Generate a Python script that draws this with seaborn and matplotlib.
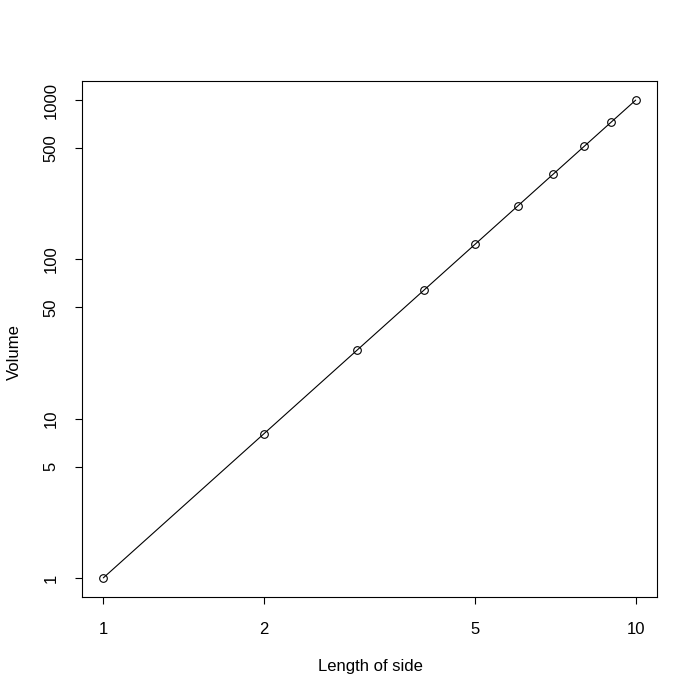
import numpy as np
import pandas as pd
import matplotlib
matplotlib.use("Agg")
import matplotlib.pyplot as plt
import seaborn as sns

side = [1, 2, 3, 4, 5, 6, 7, 8, 9, 10]
volume = [1, 8, 27, 64, 125, 216, 343, 512, 729, 1000]
x_ticks = [1, 2, 5, 10]
y_ticks = [1, 5, 10, 50, 100, 500, 1000]

df = pd.DataFrame({"side": side, "volume": volume})

sns.set_style("ticks", {"text.color": "black", "axes.labelcolor": "black",
                        "xtick.color": "black", "ytick.color": "black"})
plt.rcParams["font.family"] = ["Liberation Sans", "DejaVu Sans"]

fig = plt.figure(figsize=(6.98, 6.98), dpi=100)
ax = fig.add_axes([82 / 698, 101 / 698, 575 / 698, 516 / 698])

sns.lineplot(data=df, x="side", y="volume", ax=ax, color="black", linewidth=0.8,
             marker="o", markersize=5.5, markerfacecolor="none",
             markeredgecolor="black", markeredgewidth=0.8)

ax.set_xscale("log")
ax.set_yscale("log")
ax.set_xlim(10 ** -0.04, 10 ** 1.04)
ax.set_ylim(10 ** -0.12, 10 ** 3.12)
ax.set_xticks(x_ticks)
ax.set_xticklabels([str(t) for t in x_ticks])
ax.set_yticks(y_ticks)
ax.set_yticklabels([str(t) for t in y_ticks], rotation=90, va="center")
ax.minorticks_off()

ax.tick_params(axis="both", length=5, width=0.8, color="black", labelsize=12,
               labelcolor="black", direction="out")
ax.tick_params(axis="x", pad=13)
ax.tick_params(axis="y", pad=12)
for s in ax.spines.values():
    s.set_visible(True)
    s.set_linewidth(0.8)
    s.set_color("black")

ax.set_xlabel("Length of side", fontsize=12, color="black")
ax.set_ylabel("Volume", fontsize=12, color="black")
ax.xaxis.set_label_coords((370 - 82) / 575, -(667 - 597) / 516)
ax.yaxis.set_label_coords(-(82 - 14) / 575, (597 - 352) / 516)
ax.xaxis.label.set_va("center")
ax.yaxis.label.set_va("center")

fig.savefig("out.png", dpi=100)
